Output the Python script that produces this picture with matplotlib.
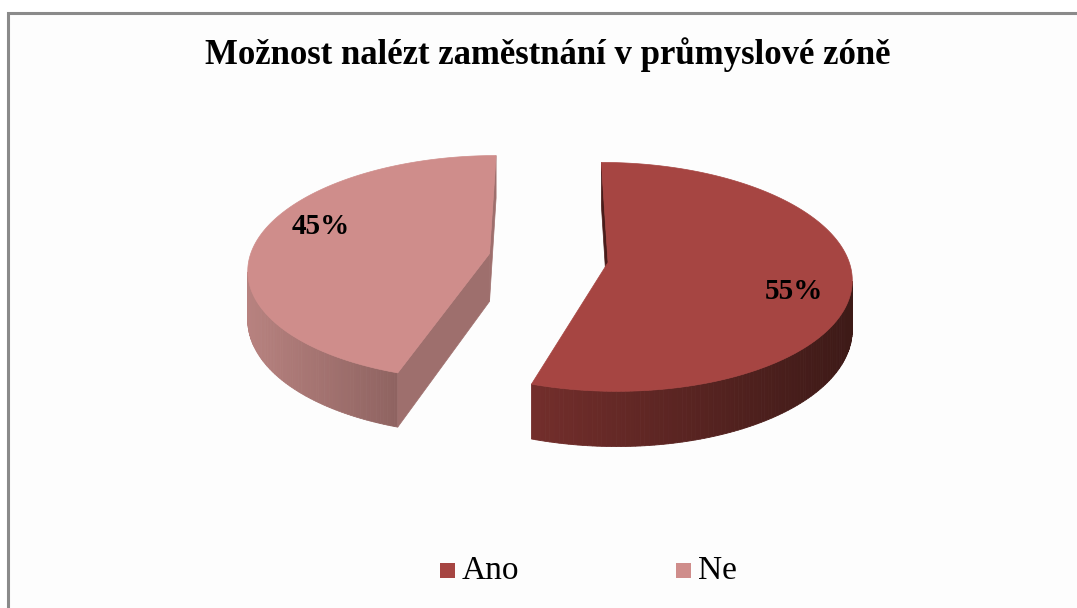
import numpy as np
import matplotlib
matplotlib.use("Agg")
from matplotlib import pyplot as plt
from matplotlib.patches import Polygon, Rectangle

# data
title = "Možnost nalézt zaměstnání v průmyslové zóně"
labels = ["Ano", "Ne"]
values = [55, 45]
pct_labels = ["55%", "45%"]

top_colors = ["#A64542", "#CF8D8B"]
side_left = [(0.45, 0.18, 0.17), (0.72, 0.51, 0.50)]
side_right = [(0.24, 0.10, 0.09), (0.56, 0.39, 0.38)]
cut_colors = ["#4a1c1a", "#9e6f6d"]

# projection of the 3d pie (pixel coords, y down)
CX, CY = 548.5, 258.0
RX, RY = 240.0, 111.5
P = 0.126       # perspective strength
H = 48.0        # thickness
EXPLODE = 0.25
CAM = np.array([0.0, -1.0 / P])


def project(x, y, z=0.0):
    d = 1 + P * y
    return CX + RX * x / d, CY - (RY * y + H * z) / d


fig = plt.figure(figsize=(10.77, 6.08), dpi=100)
ax = fig.add_axes([0, 0, 1, 1])
ax.set_xlim(0, 1077)
ax.set_ylim(608, 0)
ax.axis("off")

# chart frame
ax.add_patch(Rectangle((8, 13), 1200, 700, facecolor="#fdfdfd", edgecolor="#8a8a8a", lw=2.2))

ax.text(548, 55, title, ha="center", va="center", fontsize=25, fontweight="bold",
        family="Liberation Serif")

# slices clockwise from 12 o'clock
total = float(sum(values))
start = 90.0
for i, v in enumerate(values):
    sweep = 360.0 * v / total
    a2 = start
    a1 = start - sweep
    mid = np.radians((a1 + a2) / 2)
    ox, oy = EXPLODE * np.cos(mid), EXPLODE * np.sin(mid)
    ts = np.radians(np.linspace(a1, a2, 200))

    # outer wall strips
    xs_l = []
    for t0, t1 in zip(ts[:-1], ts[1:]):
        tm = (t0 + t1) / 2
        q = np.array([ox + np.cos(tm), oy + np.sin(tm)])
        n = np.array([np.cos(tm), np.sin(tm)])
        if np.dot(CAM - q, n) <= 0:
            continue
        pts = [project(ox + np.cos(t0), oy + np.sin(t0), 0),
               project(ox + np.cos(t1), oy + np.sin(t1), 0),
               project(ox + np.cos(t1), oy + np.sin(t1), -1),
               project(ox + np.cos(t0), oy + np.sin(t0), -1)]
        xs_l.append((pts, pts[0][0]))
    if xs_l:
        xmin = min(p[1] for p in xs_l)
        xmax = max(p[1] for p in xs_l)
        for pts, xx in xs_l:
            f = (xx - xmin) / max(xmax - xmin, 1)
            c = tuple(np.array(side_left[i]) * (1 - f) + np.array(side_right[i]) * f)
            ax.add_patch(Polygon(pts, closed=True, facecolor=c, edgecolor=c, lw=0.6))

    # cut faces
    for a, sgn in ((a1, -1), (a2, 1)):
        ar = np.radians(a)
        n = np.array([np.cos(ar + sgn * np.pi / 2), np.sin(ar + sgn * np.pi / 2)])
        if np.dot(CAM - np.array([ox, oy]), n) <= 0:
            continue
        rx_, ry_ = ox + np.cos(ar), oy + np.sin(ar)
        pts = [project(ox, oy, 0), project(rx_, ry_, 0), project(rx_, ry_, -1), project(ox, oy, -1)]
        ax.add_patch(Polygon(pts, closed=True, facecolor=cut_colors[i], edgecolor=cut_colors[i], lw=0.5))

    # top face
    top = [project(ox, oy, 0)] + [project(ox + np.cos(t), oy + np.sin(t), 0) for t in ts]
    ax.add_patch(Polygon(top, closed=True, facecolor=top_colors[i], edgecolor=top_colors[i], lw=0.5))

    # percentage label
    la = mid - np.radians(10)
    lx, ly = project(ox + 0.78 * np.cos(la), oy + 0.78 * np.sin(la), 0)
    ax.text(lx, ly, pct_labels[i], ha="center", va="center", fontsize=21, fontweight="bold",
            family="Liberation Serif")

    start = a1

# legend
leg_x = [440, 676]
for i, lab in enumerate(labels):
    ax.add_patch(Rectangle((leg_x[i], 563), 15, 15, facecolor=top_colors[i], edgecolor="none"))
    ax.text(leg_x[i] + 22, 571, lab, ha="left", va="center", fontsize=24, family="Liberation Serif")

fig.savefig("out.png", dpi=100)
